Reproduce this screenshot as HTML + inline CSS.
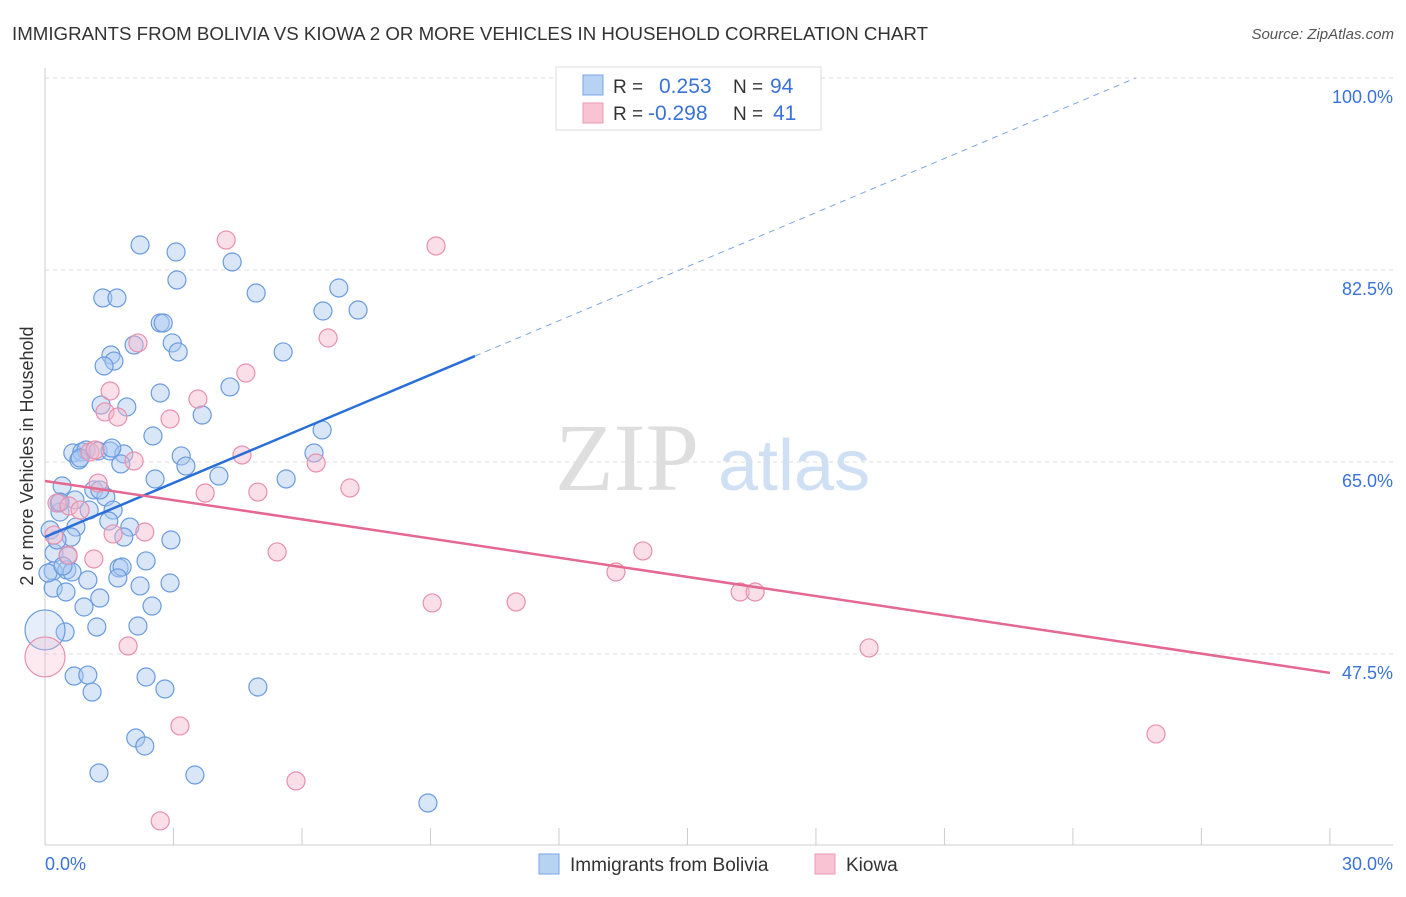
<!DOCTYPE html>
<html><head><meta charset="utf-8"><style>
body{margin:0;background:#fff;font-family:"Liberation Sans",sans-serif;}
svg text{font-family:"Liberation Sans",sans-serif;}
</style></head><body>
<svg id="chart" width="1406" height="892" viewBox="0 0 1406 892" xmlns="http://www.w3.org/2000/svg">
<text x="12" y="40" font-size="18.5" fill="#333" textLength="916" lengthAdjust="spacingAndGlyphs">IMMIGRANTS FROM BOLIVIA VS KIOWA 2 OR MORE VEHICLES IN HOUSEHOLD CORRELATION CHART</text>
<text x="1394" y="39" font-size="15" fill="#555" font-style="italic" text-anchor="end">Source: ZipAtlas.com</text>
<text x="555" y="490" font-size="96" fill="#dedede" font-family="Liberation Serif" style="font-family:'Liberation Serif',serif">ZIP</text>
<text x="718" y="490" font-size="72" fill="#d0e0f4">atlas</text>
<g id="grid"></g>
<g id="axes"></g>
<g id="marks"></g>
<g id="lines"></g>
<text transform="translate(33,456) rotate(-90)" font-size="18" fill="#333" text-anchor="middle">2 or more Vehicles in Household</text>
<g>
<rect x="556" y="67" width="265" height="63" fill="#fff" stroke="#ddd"/>
<rect x="583" y="75" width="20" height="20" fill="#b8d2f4" stroke="#7aa6e4"/>
<rect x="583" y="103" width="20" height="20" fill="#f8c4d4" stroke="#ec9ab4"/>
<text x="613" y="93" font-size="19" fill="#333">R = </text><text x="659" y="93" font-size="21" fill="#3a72d8">0.253</text>
<text x="733" y="93" font-size="19" fill="#333">N = </text><text x="770" y="93" font-size="21" fill="#3a72d8">94</text>
<text x="613" y="120" font-size="19" fill="#333">R = </text><text x="648" y="120" font-size="21" fill="#3a72d8">-0.298</text>
<text x="733" y="120" font-size="19" fill="#333">N = </text><text x="773" y="120" font-size="21" fill="#3a72d8">41</text>
</g>
<g>
<rect x="539" y="854" width="20" height="20" fill="#b8d2f4" stroke="#7aa6e4"/>
<text x="570" y="871" font-size="19" fill="#333">Immigrants from Bolivia</text>
<rect x="815" y="854" width="20" height="20" fill="#f8c4d4" stroke="#ec9ab4"/>
<text x="846" y="871" font-size="19" fill="#333">Kiowa</text>
</g>
</svg>
<script>
const yTicks=[100,82.5,65,47.5];
const yTickLabels=["100.0%","82.5%","65.0%","47.5%"];
const xTickLabels=["0.0%","30.0%"];
const blueX=[2.22,3.06,3.08,4.37,1.35,1.68,4.93,6.86,6.49,7.31,2.69,2.76,2.97,3.11,2.08,1.54,1.61,1.38,5.56,4.32,2.69,1.31,1.91,3.67,2.52,6.47,0.65,0.86,0.96,1.24,1.52,0.79,1.84,1.77,3.18,3.29,6.28,4.06,5.63,2.57,0.40,1.14,1.42,0.70,0.33,0.35,1.03,1.59,1.49,1.98,0.72,0.12,0.61,1.84,2.94,0.21,0.54,2.36,1.73,1.80,0.19,0.51,0.63,1.00,1.70,2.22,2.92,0.19,0.49,1.28,2.50,0.91,1.21,2.17,0.47,0,0.68,1.00,2.36,2.80,1.10,4.97,2.12,2.33,1.26,3.50,8.94,0.28,0.07,0.42,0.82,1.56,0.35,1.28];
const blueY=[84.78,84.14,81.59,83.23,79.95,79.95,80.40,80.86,78.76,78.85,77.67,77.67,75.85,75.03,75.66,74.75,74.20,73.75,75.03,71.84,71.29,70.19,70.01,69.28,67.37,67.92,65.82,65.91,66.09,66.00,66.00,65.18,65.73,64.82,65.55,64.63,65.82,63.72,63.45,63.45,62.81,62.45,61.81,61.54,61.26,60.44,60.62,60.62,59.62,59.07,59.07,58.80,58.16,58.16,57.89,56.70,56.43,55.98,55.34,55.43,55.06,55.16,54.97,54.24,54.43,53.70,53.97,53.51,53.15,52.60,51.87,51.78,49.96,50.05,49.50,49.69,45.49,45.58,45.40,44.31,44.03,44.49,39.84,39.11,36.65,36.47,33.92,57.89,54.88,55.52,65.36,66.27,61.35,62.45];
const blueR=blueX.map((v,i)=>i===75?20:9);
const pinkX=[4.23,9.13,2.17,6.61,4.69,1.52,3.57,1.40,1.70,2.92,1.05,1.17,4.60,2.08,6.33,3.74,4.97,7.12,1.24,0.28,0.56,0.21,2.33,1.59,0.54,1.14,5.42,13.96,13.33,16.23,16.58,9.04,11.00,1.94,19.24,0,3.15,25.94,5.86,2.69,0.82];
const pinkY=[85.23,84.69,75.85,76.30,73.11,71.47,70.74,69.56,69.10,68.92,65.91,66.09,65.64,65.09,64.91,62.17,62.26,62.63,63.08,61.26,60.99,58.34,58.62,58.44,56.52,56.16,56.80,56.89,54.97,53.15,53.15,52.15,52.24,48.23,48.05,47.23,40.94,40.21,35.92,32.28,60.62];
const pinkR=pinkX.map((v,i)=>i===35?20:9);
const blueTrend=[58.16,1.643];
const pinkTrend=[63.27,-0.583];
const NS="http://www.w3.org/2000/svg";
const X=v=>45+v*42.83;
const Y=v=>78+(100-v)*10.971;
function mk(tag,attrs,parent){const e=document.createElementNS(NS,tag);for(const k in attrs)e.setAttribute(k,attrs[k]);parent.appendChild(e);return e;}
const grid=document.getElementById('grid'),axes=document.getElementById('axes'),marks=document.getElementById('marks'),lines=document.getElementById('lines');
yTicks.forEach((t,i)=>{
 const l=mk('line',{x1:45,x2:1393,y1:Y(t),y2:Y(t),stroke:'#ddd','stroke-dasharray':'4,4'},grid);
 
 
 const tx=mk('text',{x:1393,y:Y(t)+25,'font-size':18,fill:'#3a72d8','text-anchor':'end'},axes);
 tx.textContent=yTickLabels[i];
 
 
});
const ax=mk('line',{x1:45,x2:45,y1:68,y2:845,stroke:'#ccc'},axes);


const bx=mk('line',{x1:45,x2:1393,y1:845,y2:845,stroke:'#ccc'},axes);


for(let i=1;i<=10;i++){const t=mk('line',{x1:X(i*3),x2:X(i*3),y1:828,y2:845,stroke:'#ccc'},axes);
 
 }
[[0,'start',45],[30,'end',1393]].forEach((a,i)=>{const t=mk('text',{x:a[2],y:870,'font-size':18,fill:'#3a72d8','text-anchor':a[1]},axes);t.textContent=xTickLabels[i];
 
 });
function pts(xs,ys,rs,fill,stroke,name){xs.forEach((x,i)=>{const c=mk('circle',{cx:X(x),cy:Y(ys[i]),r:rs[i],fill:fill,'fill-opacity':rs[i]>10?0.3:0.45,stroke:stroke,'stroke-width':1.2},marks);
 
 });}
pts(blueX,blueY,blueR,'#a8c8f0','#6a9be0','point-bolivia');
pts(pinkX,pinkY,pinkR,'#f4b8cc','#e890ac','point-kiowa');
const bEnd=(100-blueTrend[0])/blueTrend[1];
const b1=mk('line',{x1:X(0),y1:Y(blueTrend[0]),x2:X(10.04),y2:Y(blueTrend[0]+blueTrend[1]*10.04),stroke:'#2a6fd8','stroke-width':2.5},lines);


const b2=mk('line',{x1:X(10.04),y1:Y(blueTrend[0]+blueTrend[1]*10.04),x2:X(bEnd),y2:Y(100),stroke:'#7aa6e4','stroke-width':1,'stroke-dasharray':'6,5'},lines);


const p1=mk('line',{x1:X(0),y1:Y(pinkTrend[0]),x2:X(30),y2:Y(pinkTrend[0]+pinkTrend[1]*30),stroke:'#e46890','stroke-width':2.5},lines);


</script>
</body></html>
